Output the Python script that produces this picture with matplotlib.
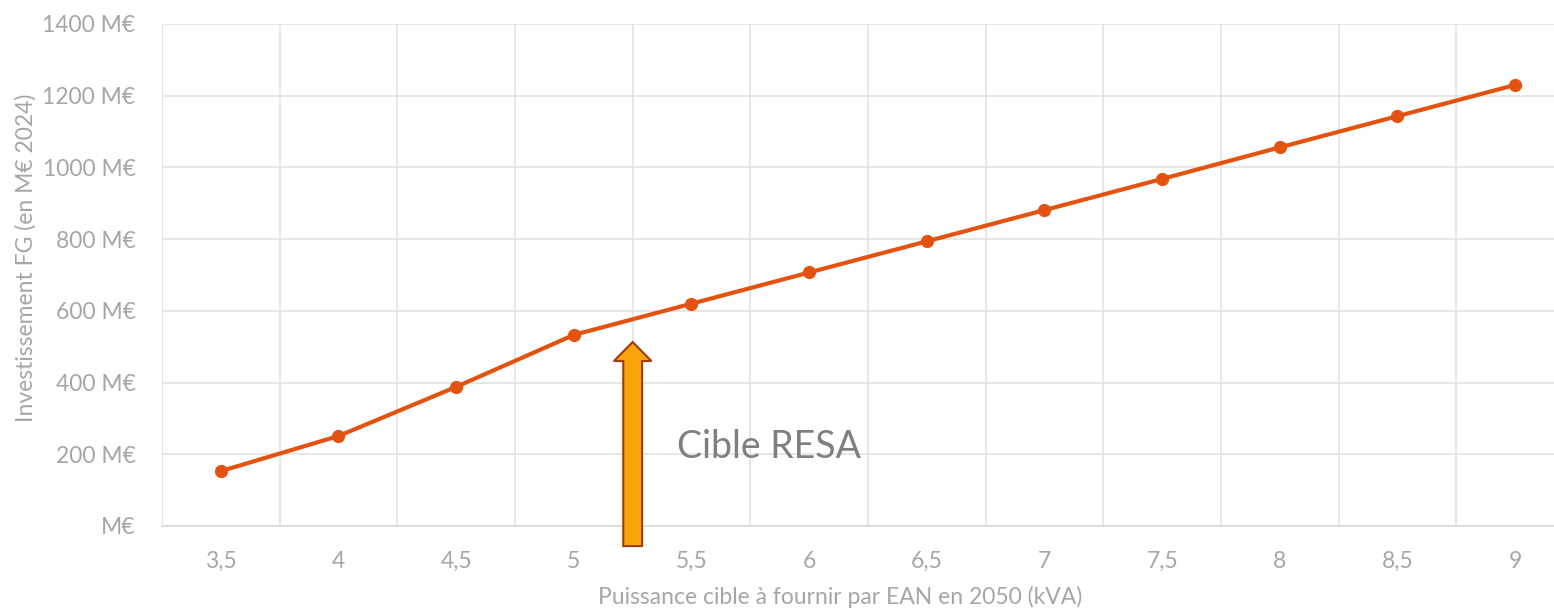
import matplotlib
matplotlib.use("Agg")
import matplotlib.pyplot as plt
from matplotlib.patches import FancyArrow
from matplotlib.ticker import FixedLocator, FuncFormatter

plt.rcParams['font.family'] = ['Lato', 'DejaVu Sans']

categories = ["3,5", "4", "4,5", "5", "5,5", "6", "6,5", "7", "7,5", "8", "8,5", "9"]
investment = [153, 251, 388, 533, 620, 707, 794, 881, 968, 1056, 1143, 1230]
yticks = [0, 200, 400, 600, 800, 1000, 1200, 1400]

line_color = "#E4520F"
grid_color = "#E3E3E3"
text_color = "#A6A6A6"

fig = plt.figure(figsize=(15.54, 6.11), dpi=100)
ax = fig.add_axes([162/1554, 85/611, 1412/1554, 502/611])

x = list(range(len(categories)))
ax.plot(x, investment, color=line_color, linewidth=3, marker='o', markersize=8.5,
        zorder=3, clip_on=False)

ax.set_xlim(-0.5, len(categories) - 0.5)
ax.set_ylim(0, 1400)

ax.set_xticks(x)
ax.set_xticklabels(categories)
ax.xaxis.set_minor_locator(FixedLocator([i - 0.5 for i in range(len(categories) + 1)]))
ax.set_yticks(yticks)
ax.yaxis.set_major_formatter(FuncFormatter(lambda v, p: "M€" if v == 0 else f"{int(v)} M€"))

ax.grid(True, which='major', axis='y', color=grid_color, linewidth=1.2, zorder=0)
ax.grid(True, which='minor', axis='x', color=grid_color, linewidth=1.2, zorder=0)
ax.tick_params(axis='both', which='both', length=0, colors=text_color, labelsize=16.5)
ax.tick_params(axis='x', pad=18)
ax.tick_params(axis='y', pad=19)
for s in ['top', 'right', 'left']:
    ax.spines[s].set_visible(False)
ax.spines['bottom'].set_color("#D9D9D9")
ax.spines['bottom'].set_linewidth(1.2)

ax.set_xlabel("Puissance cible à fournir par EAN en 2050 (kVA)", color=text_color,
              fontsize=16.5, labelpad=5)
ax.xaxis.set_label_coords(0.480, -0.12)
ax.set_ylabel("Investissement FG (en M€ 2024)", color=text_color, fontsize=16.5)
ax.yaxis.set_label_coords(-0.089, 0.534)

arrow = FancyArrow(3.5, -56, 0, 569, width=0.16, head_width=0.32, head_length=53,
                   length_includes_head=True, facecolor="#F7A50A", edgecolor="#A33A0C",
                   linewidth=1.5, clip_on=False, zorder=4)
ax.add_patch(arrow)

ax.text(3.876, 190, "Cible RESA", color="#7F7F7F", fontsize=27, va='baseline', ha='left')

fig.savefig("out.png", dpi=100)
